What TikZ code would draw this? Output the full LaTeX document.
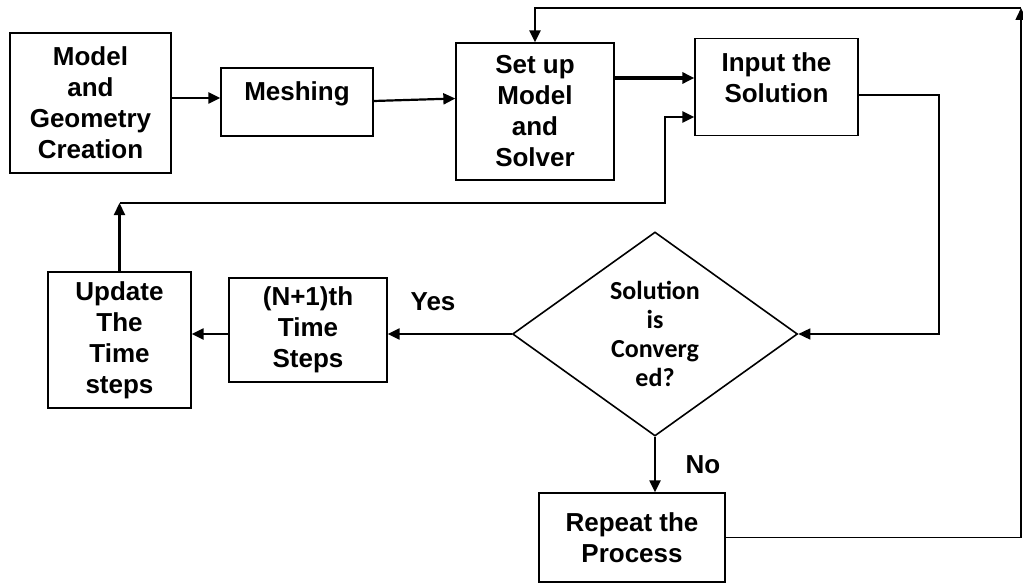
\documentclass[tikz,border=0pt]{standalone}
\usepackage{fontspec}
\setmainfont{Liberation Sans}
\newfontfamily\calibri{Carlito}
\usetikzlibrary{shapes.geometric, arrows.meta}

\begin{document}
\begin{tikzpicture}[x = 1pt, y = -1pt,
	box/.style = {draw, line width = 1.3pt, inner sep = 0pt, align = center, font = \fontsize{26}{31}\selectfont\bfseries},
	decision/.style = {draw, diamond, aspect = 1.4, line width = 1.6pt, inner sep = 0pt, align = center, font = \calibri\fontsize{26}{29}\selectfont\bfseries},
	flow/.style = {line width = 2.2pt, -{Triangle[length = 12pt, width = 11pt]}},
	thinflow/.style = {flow, line width = 1.5pt},
	lbl/.style = {font = \fontsize{26}{31}\selectfont\bfseries}]

	\def\topLine{8}
	\def\feedLine{203}
	\def\decY{334}

	\useasboundingbox (0,0) rectangle (1023,583);

	% top row
	\node [box, minimum width = 161pt, minimum height = 140pt] (model) at (90.5,103) {Model\\and\\Geometry\\Creation};
	\node [box, minimum width = 152pt, minimum height = 68pt, text depth = 22pt] (mesh) at (297,102) {Meshing};
	\node [box, minimum width = 158pt, minimum height = 137pt] (setup) at (535,111.5) {Set up\\Model\\and\\Solver};
	\node [box, minimum width = 163pt, minimum height = 97pt, text depth = 18pt] (input) at (776.5,87) {Input the\\Solution};

	% check and time stepping
	\node [decision, minimum width = 285pt, minimum height = 204pt] (dec) at (655,\decY) {Solution\\is\\Converg\\ed?};
	\node [box, minimum width = 158pt, minimum height = 104pt] (next) at (308,330) {(N+1)th\\Time\\Steps};
	\node [box, minimum width = 143pt, minimum height = 136pt] (update) at (119.5,340) {Update\\The\\Time\\steps};
	\node [box, minimum width = 186pt, minimum height = 89pt] (repeat) at (632,537.5) {Repeat the\\Process};

	\node [lbl] (yes) at (433,302) {Yes};
	\node [lbl] (no) at (703,465) {No};

	% connectors
	\draw [flow] ([yshift = 5pt]model.east) -- ([yshift = 4pt]mesh.west);
	\draw [flow] ([yshift = 1pt]mesh.east) -- ([yshift = 13pt]setup.west);
	\draw [flow, line width = 3.5pt] (setup.east |- 0,78) -- (input.west |- 0,78);

	\coordinate (fbL) at (update.north |- 0,\feedLine);
	\draw [flow] (update.north) -- (fbL);
	\draw [flow] (fbL) -| (665,117) -- (input.west |- 0,117);

	\draw [thinflow] (input.east |- 0,95) -| (939,\decY) -- (dec.east);
	\draw [flow] (dec.west) -- (next.east |- dec.west);
	\draw [flow] (next.west |- dec.west) -- (update.east |- dec.west);
	\draw [flow] (dec.south) -- (dec.south |- repeat.north);

	\coordinate (cornerR) at (1021,\topLine);
	\draw [thinflow] (repeat.east) -| (cornerR);
	\draw [flow, line width = 2.8pt] (cornerR) -| (setup.north);
\end{tikzpicture}
\end{document}
